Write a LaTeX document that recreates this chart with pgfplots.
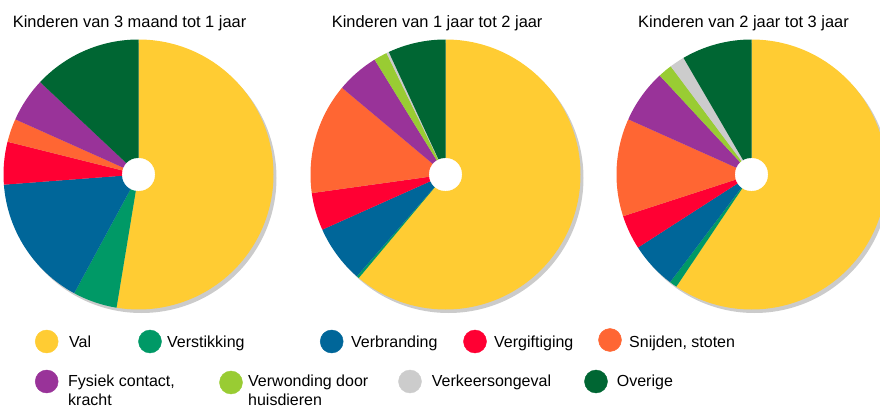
\documentclass[border=0pt]{standalone}
\usepackage{pgfplots}
\pgfplotsset{compat=1.18}
\usepackage{pgfplotstable}
\usepackage{fontspec}
\setmainfont{Liberation Sans}

\definecolor{c0}{HTML}{FFCC33}
\definecolor{c1}{HTML}{009966}
\definecolor{c2}{HTML}{006699}
\definecolor{c3}{HTML}{FF0033}
\definecolor{c4}{HTML}{FF6633}
\definecolor{c5}{HTML}{993399}
\definecolor{c6}{HTML}{99CC33}
\definecolor{c7}{HTML}{CCCCCC}
\definecolor{c8}{HTML}{006633}
\definecolor{shadowgray}{HTML}{CBCBCB}

% percentages per cause (rows) for the three age groups (columns)
\pgfplotstableread{
cat A B C
Val 52.6 61.1 59.4
Verstikking 5.3 0.3 0.9
Verbranding 15.9 6.9 5.6
Vergiftiging 5.1 4.5 4.1
Snijden 2.8 13.3 11.7
Fysiek 5.3 5.1 6.4
Verwonding 0 1.6 1.7
Verkeer 0 0.3 1.8
Overige 13.0 6.9 8.4
}\datatable

\newcommand\drawpie[3]{% column, cx, cy
  \def\cum{0}%
  \pgfplotsforeachungrouped \i in {0,...,8}{%
    \pgfplotstablegetelem{\i}{#1}\of\datatable
    \let\v\pgfplotsretval
    \pgfmathsetmacro\sa{90-3.6*\cum}%
    \pgfmathsetmacro\cumnew{\cum+\v}%
    \pgfmathsetmacro\ea{90-3.6*\cumnew}%
    \let\cum\cumnew
    \ifdim\v pt>0pt
      \edef\temp{\noexpand\addplot[fill=c\i, draw=none] coordinates {(#2,#3)} -- (axis cs:#2,#3) -- ++(\sa:135bp) arc[start angle=\sa, end angle=\ea, radius=135bp] -- cycle;}%
      \temp
    \fi
  }%
}

\newcommand\tfont{\fontsize{16.4bp}{19bp}\selectfont}
\newcommand\lfont{\fontsize{16bp}{19bp}\selectfont}

\begin{document}
\begin{tikzpicture}
\useasboundingbox (0,0) rectangle (880bp,407bp);
\begin{axis}[
  at={(0,0)}, anchor=south west,
  scale only axis, x=1bp, y=1bp,
  xmin=0, xmax=880, ymin=0, ymax=407,
  disabledatascaling,
  hide axis, clip=true,
]
% shadows
\addplot[fill=shadowgray, draw=none] coordinates {(141.5,229)} (axis cs:141.5,229) circle[radius=135bp];
\addplot[fill=shadowgray, draw=none] coordinates {(448.5,229)} (axis cs:448.5,229) circle[radius=135bp];
\addplot[fill=shadowgray, draw=none] coordinates {(754.5,229)} (axis cs:754.5,229) circle[radius=135bp];
% slices
\drawpie{A}{138.5}{232.5}
\drawpie{B}{445.5}{232.5}
\drawpie{C}{751.5}{232.5}
% holes
\addplot[only marks, mark=*, mark size=16.3bp, color=white] coordinates {(138.5,232.5) (445.5,232.5) (751.5,232.5)};

% legend markers
\addplot[only marks, mark=*, mark size=11.5bp, color=c0] coordinates {(46.7,65.5)};
\addplot[only marks, mark=*, mark size=11.5bp, color=c1] coordinates {(150,65.5)};
\addplot[only marks, mark=*, mark size=11.5bp, color=c2] coordinates {(331.7,65.5)};
\addplot[only marks, mark=*, mark size=11.5bp, color=c3] coordinates {(475,65.5)};
\addplot[only marks, mark=*, mark size=11.5bp, color=c4] coordinates {(610,67)};
\addplot[only marks, mark=*, mark size=11.5bp, color=c5] coordinates {(46.7,25.5)};
\addplot[only marks, mark=*, mark size=11.5bp, color=c6] coordinates {(231,24.5)};
\addplot[only marks, mark=*, mark size=11.5bp, color=c7] coordinates {(410,25.5)};
\addplot[only marks, mark=*, mark size=11.5bp, color=c8] coordinates {(596,25.5)};

% titles
\node[anchor=base west, inner sep=0, font=\tfont] at (axis cs:12.7,380) {Kinderen van 3 maand tot 1 jaar};
\node[anchor=base west, inner sep=0, font=\tfont] at (axis cs:331.7,380) {Kinderen van 1 jaar tot 2 jaar};
\node[anchor=base west, inner sep=0, font=\tfont] at (axis cs:638,380) {Kinderen van 2 jaar tot 3 jaar};

% legend texts
\node[anchor=base west, inner sep=0, font=\lfont] at (axis cs:69,60) {Val};
\node[anchor=base west, inner sep=0, font=\lfont] at (axis cs:167,60) {Verstikking};
\node[anchor=base west, inner sep=0, font=\lfont] at (axis cs:351,60) {Verbranding};
\node[anchor=base west, inner sep=0, font=\lfont] at (axis cs:494,60) {Vergiftiging};
\node[anchor=base west, inner sep=0, font=\lfont] at (axis cs:629,60) {Snijden, stoten};
\node[anchor=base west, inner sep=0, font=\lfont] at (axis cs:68,20.8) {Fysiek contact,};
\node[anchor=base west, inner sep=0, font=\lfont] at (axis cs:68,2) {kracht};
\node[anchor=base west, inner sep=0, font=\lfont] at (axis cs:248,20.8) {Verwonding door};
\node[anchor=base west, inner sep=0, font=\lfont] at (axis cs:248,2) {huisdieren};
\node[anchor=base west, inner sep=0, font=\lfont] at (axis cs:431.7,20.8) {Verkeersongeval};
\node[anchor=base west, inner sep=0, font=\lfont] at (axis cs:616.7,20.8) {Overige};
\end{axis}
\end{tikzpicture}
\end{document}
